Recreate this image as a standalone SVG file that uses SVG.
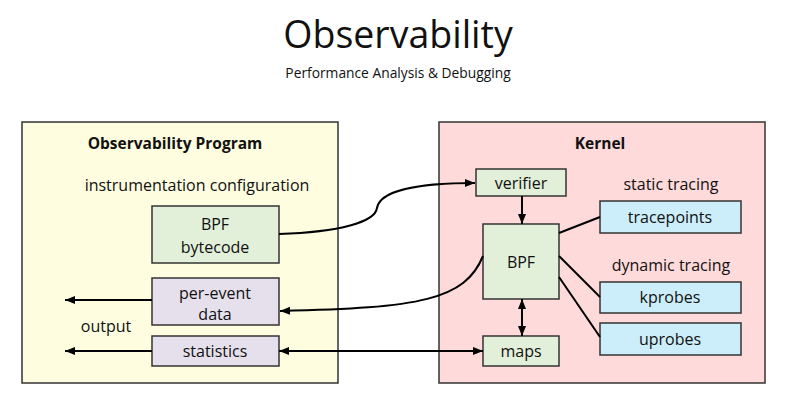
<svg xmlns="http://www.w3.org/2000/svg" width="804" height="408" viewBox="0 0 804 408">
<defs>
<marker id="ah" viewBox="0 0 10 10" refX="10" refY="5" markerWidth="10" markerHeight="10" markerUnits="userSpaceOnUse" orient="auto-start-reverse">
<path d="M0,1 L10,5 L0,9 Z" fill="#000"/>
</marker>
<style>
text{font-family:"Open Sans","Noto Sans",sans-serif;fill:#111;text-anchor:middle}
.t{font-size:16px}
.b{font-size:15.5px;font-weight:bold}
.panel{stroke:#333;stroke-width:1.5}
.box{stroke:#333;stroke-width:1.5}
.g{fill:#e2efd9}
.p{fill:#e6e0ec}
.c{fill:#ccedfa}
.ln{fill:none;stroke:#000;stroke-width:2}
</style>
</defs>
<rect width="804" height="408" fill="#fff"/>
<g id="title">
<text x="398" y="48" style="font-size:37.5px">Observability</text>
<text x="398" y="78" style="font-size:13.8px">Performance Analysis &amp; Debugging</text>
</g>
<g id="program">
<rect class="panel" x="22" y="122" width="316" height="261" fill="#fefde0"/>
<text class="b" x="175" y="149">Observability Program</text>
<text class="t" x="197" y="191">instrumentation configuration</text>
<text class="t" x="106" y="332">output</text>
</g>
<g id="kernel">
<rect class="panel" x="439" y="122" width="326" height="261" fill="#fedada"/>
<text class="b" x="600" y="149">Kernel</text>
<text class="t" x="671" y="190">static tracing</text>
<text class="t" x="671" y="271">dynamic tracing</text>
</g>
<g id="bytecode">
<rect class="box g" x="152" y="206" width="127" height="57"/>
<text class="t" x="215" y="230">BPF</text>
<text class="t" x="215" y="253">bytecode</text>
</g>
<g id="perevent">
<rect class="box p" x="152" y="278" width="127" height="47"/>
<text class="t" x="215" y="299">per-event</text>
<text class="t" x="215" y="320">data</text>
</g>
<g id="statistics">
<rect class="box p" x="152" y="336" width="127" height="30"/>
<text class="t" x="215" y="357">statistics</text>
</g>
<g id="verifier">
<rect class="box g" x="476" y="169" width="90" height="27"/>
<text class="t" x="521" y="189">verifier</text>
</g>
<g id="bpf">
<rect class="box g" x="483" y="224" width="76" height="75"/>
<text class="t" x="521" y="268">BPF</text>
</g>
<g id="maps">
<rect class="box g" x="483" y="336" width="76" height="30"/>
<text class="t" x="521" y="357">maps</text>
</g>
<g id="tracepoints">
<rect class="box c" x="600" y="201" width="141" height="32"/>
<text class="t" x="670" y="223">tracepoints</text>
</g>
<g id="kprobes">
<rect class="box c" x="600" y="282" width="141" height="31"/>
<text class="t" x="670" y="303">kprobes</text>
</g>
<g id="uprobes">
<rect class="box c" x="600" y="323" width="141" height="32"/>
<text class="t" x="670" y="345">uprobes</text>
</g>
<g id="connectors">
<path class="ln" d="M279,234 C340,232 375,222 377,208 C380,190 420,183 475,183" marker-end="url(#ah)"/>
<path class="ln" d="M483,256 C465,300 420,308 280,311" marker-end="url(#ah)"/>
<path class="ln" d="M522,196 L522,224" marker-end="url(#ah)"/>
<path class="ln" d="M522,299 L522,336" marker-start="url(#ah)" marker-end="url(#ah)"/>
<path class="ln" d="M279,351 L483,351" marker-start="url(#ah)" marker-end="url(#ah)"/>
<path class="ln" d="M152,300 L65,300" marker-end="url(#ah)"/>
<path class="ln" d="M152,351 L65,351" marker-end="url(#ah)"/>
<path class="ln" d="M559,233 L600,217"/>
<path class="ln" d="M559,256 L600,297"/>
<path class="ln" d="M559,277 L600,337"/>
</g>
</svg>
